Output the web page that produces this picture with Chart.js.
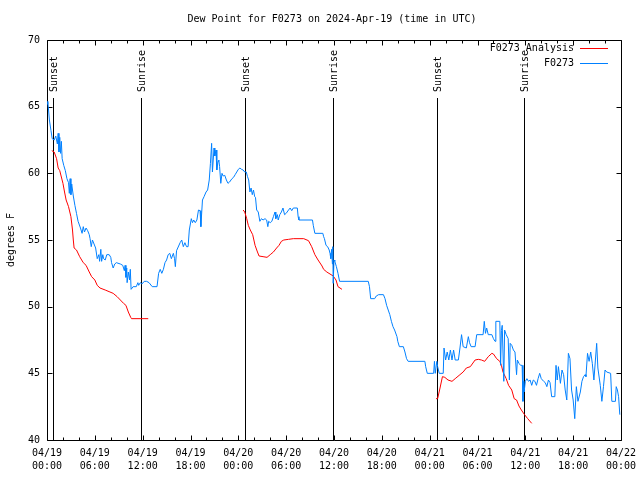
<!DOCTYPE html>
<html><head><meta charset="utf-8">
<script src="https://cdn.jsdelivr.net/npm/chart.js@4"></script>
<style>html,body{margin:0;padding:0;background:#fff}#wrap{width:640px;height:480px}</style>
</head><body><div id="wrap"><canvas id="c" width="640" height="480"></canvas></div>
<script>
const titleText = 'Dew Point for F0273 on 2024-Apr-19 (time in UTC)';
const yAxisTitle = 'degrees F';
const seriesNames = ['F0273 Analysis', 'F0273'];
const tickLabels = [['04/19','00:00'],['04/19','06:00'],['04/19','12:00'],['04/19','18:00'],
  ['04/20','00:00'],['04/20','06:00'],['04/20','12:00'],['04/20','18:00'],
  ['04/21','00:00'],['04/21','06:00'],['04/21','12:00'],['04/21','18:00'],['04/22','00:00']];
const sunHours = [0.72, 11.79, 24.88, 35.92, 48.96, 59.88];
const sunLabels = ['Sunset','Sunrise','Sunset','Sunrise','Sunset','Sunrise'];

// hours since 04/19 00:00 UTC
const analysisHours = [0.6,0.9,1.2,1.4,1.6,2.0,2.2,2.4,2.7,3.0,3.2,3.3,3.4,3.7,4.1,4.55,4.9,5.3,5.6,6.0,6.3,6.65,7.3,7.9,8.3,8.8,9.2,9.6,9.9,10.2,10.5,10.6,12.7,
  18,
  24.6,24.8,25.05,25.25,25.5,25.8,26.1,26.4,26.6,27.1,27.6,28.0,28.4,28.8,29.1,29.4,29.7,30.3,30.9,32.2,32.8,33.2,33.6,34.0,34.5,34.7,35.1,35.5,35.9,36.25,36.5,37.0,
  42,
  48.8,49.0,49.3,49.6,49.9,50.3,50.8,51.2,51.8,52.2,52.6,53.1,53.7,54.1,54.5,54.9,55.35,55.8,56.0,56.4,56.8,57.0,57.2,57.6,57.9,58.3,58.6,58.9,59.2,59.5,59.9,60.3,60.8];
const analysisDew = [61.7,61.6,61.1,60.4,60.2,59.25,58.6,58.0,57.5,56.75,55.75,55.0,54.4,54.25,53.75,53.3,53.1,52.6,52.25,52.0,51.6,51.4,51.25,51.1,51.0,50.75,50.5,50.25,50.1,49.6,49.2,49.1,49.1,
  null,
  57.25,57.1,56.6,56.1,55.75,55.4,54.6,54.1,53.8,53.75,53.7,53.9,54.1,54.4,54.6,54.9,55.0,55.05,55.1,55.1,54.95,54.5,53.9,53.5,53.05,52.8,52.6,52.45,52.3,52.0,51.5,51.3,
  null,
  43.1,43.1,43.9,44.75,44.7,44.5,44.4,44.6,44.9,45.1,45.4,45.5,46.0,46.05,46.0,45.9,46.25,46.5,46.45,46.1,45.9,45.6,45.1,44.6,44.1,43.75,43.1,43.0,42.55,42.25,41.9,41.6,41.25];

const obsHours = [0.0,0.1,0.3,0.5,0.65,0.9,1.1,1.3,1.4,1.5,1.6,1.7,1.8,1.9,2.1,2.3,2.5,2.7,2.8,2.9,3.0,3.1,3.3,3.5,3.7,3.9,4.2,4.4,4.55,4.7,4.9,5.1,5.3,
  5.4,5.55,5.7,5.9,6.1,6.3,6.5,6.6,6.75,6.85,7.0,7.1,7.3,7.5,7.8,8.0,8.1,8.3,8.5,8.7,9.2,9.5,9.7,9.8,9.9,10.0,10.05,10.2,10.35,10.45,10.55,10.8,11.2,11.4,11.5,11.7,11.9,
  12.2,12.5,12.8,13.2,13.8,14.0,14.2,14.4,14.6,14.8,15.0,15.2,15.4,15.6,15.85,16.0,16.1,16.25,16.4,16.7,16.9,17.1,17.3,17.5,17.7,17.85,18.1,18.25,18.4,18.6,18.8,
  19.0,19.2,19.3,19.5,19.7,19.95,20.15,20.35,20.5,20.65,20.75,20.95,21.05,21.2,21.3,21.45,21.55,21.65,21.8,21.95,22.1,22.3,22.5,22.7,22.9,23.2,23.4,23.6,23.8,
  24.0,24.2,24.4,24.6,24.8,25.0,25.15,25.3,25.45,25.6,25.75,25.9,26.05,26.15,26.3,26.5,26.7,26.9,27.1,27.35,27.55,27.7,27.8,28.0,28.2,28.4,28.6,28.7,28.9,29.0,
  29.2,29.4,29.6,29.8,30.0,30.3,30.5,30.7,30.9,31.1,31.4,31.5,31.6,33.3,33.4,33.6,34.6,34.7,34.8,35.0,35.2,35.4,35.5,35.6,35.7,35.8,35.85,35.9,36.0,36.1,36.3,36.5,36.7,
  40.3,40.45,40.6,41.1,41.3,41.6,42.2,42.4,42.6,42.8,43.0,43.2,43.4,43.6,43.9,44.0,44.2,44.7,44.9,45.1,45.3,47.4,47.5,47.7,48.5,48.6,48.7,48.9,49.0,49.2,49.7,49.8,
  50.0,50.2,50.4,50.6,50.8,51.0,51.2,51.6,51.8,52.0,52.2,52.6,52.85,53.0,53.2,53.7,53.9,54.7,54.85,55.0,55.15,55.35,55.8,56.0,56.2,56.3,56.8,56.9,57.0,57.1,57.3,57.4,
  57.6,57.85,58.0,58.1,58.3,58.5,58.7,58.9,59.0,59.2,59.4,59.6,59.7,59.8,59.85,60.0,60.2,60.4,60.6,60.8,61.0,61.2,61.4,61.6,61.8,62.0,62.3,62.5,62.7,62.9,63.1,
  63.3,63.7,63.85,64.0,64.15,64.4,64.6,64.8,65.0,65.2,65.4,65.6,65.8,66.0,66.2,66.4,66.6,66.9,67.1,67.3,67.5,67.6,67.8,68.0,68.2,68.4,68.6,68.95,69.1,69.4,69.6,
  69.8,70.0,70.2,70.7,70.85,71.3,71.4,71.55,71.7,71.85];
const obsDew = [65.2,65.4,64.0,63.2,62.6,62.5,62.8,62.2,63.0,61.6,62.7,61.5,62.4,61.1,60.6,60.2,59.6,59.3,58.5,59.6,58.4,59.2,58.3,57.6,57.0,56.4,55.9,55.5,56.0,55.6,55.9,55.7,55.4,
  55.1,54.5,55.0,54.7,54.4,53.6,53.9,53.4,54.3,53.4,53.9,53.6,53.5,53.9,53.9,53.7,53.3,52.9,53.2,53.3,53.2,53.1,52.7,53.1,52.2,52.9,51.8,52.6,52.0,52.8,51.3,51.5,51.5,51.8,51.6,51.8,51.7,
  51.9,51.9,51.8,51.5,51.5,52.5,52.8,52.5,52.8,53.3,53.5,53.9,54.0,53.6,54.0,53.6,53.0,54.2,54.4,54.8,55.0,54.5,54.8,54.5,54.5,55.75,56.6,56.3,56.5,56.3,56.5,
  57.25,57.2,56.0,58.0,58.25,58.6,58.75,59.5,60.75,62.25,60.1,61.9,61.3,61.75,60.25,60.9,61.0,60.5,59.25,60.0,59.8,59.85,59.5,59.25,59.35,59.6,59.7,59.9,60.1,
  60.3,60.4,60.3,60.25,60.1,60.1,59.75,59.5,58.6,58.9,58.4,58.75,58.25,58.2,57.25,57.1,56.4,56.6,56.5,56.6,56.5,56.0,56.4,56.3,56.4,56.75,57.1,56.6,56.9,56.5,
  56.9,57.1,57.4,56.9,57.0,57.25,57.4,57.2,57.4,57.4,57.4,56.75,56.5,56.5,56.1,55.5,55.5,55.25,55.1,54.6,54.5,54.25,54.0,53.6,54.3,53.2,54.5,51.75,53.5,53.4,53.0,52.5,51.9,
  51.9,51.5,50.6,50.6,50.8,50.9,50.9,50.6,50.1,49.75,49.4,48.9,48.5,48.25,47.75,47.4,47.0,47.0,46.6,46.1,45.9,45.9,45.5,45.0,45.0,45.9,45.0,45.9,45.5,45.0,45.0,46.9,
  46.0,46.6,46.0,46.75,46.0,46.75,46.0,46.0,46.9,47.9,47.0,46.9,47.75,47.3,47.0,47.0,47.9,47.9,48.9,48.0,48.4,47.9,47.9,47.6,47.4,48.9,48.9,45.6,48.2,48.6,44.4,48.25,
  47.9,47.6,44.5,47.25,47.1,46.75,46.6,44.9,46.0,45.75,45.6,45.6,42.9,44.4,43.6,44.4,44.6,44.4,44.5,44.1,44.5,44.4,44.1,44.6,45.0,44.6,44.4,44.3,44.0,44.5,44.3,
  43.25,43.25,45.6,44.5,45.5,44.25,45.25,44.9,43.75,43.0,46.5,46.1,43.75,43.0,41.6,44.0,42.9,43.6,44.4,44.75,44.9,44.75,46.5,45.9,46.6,45.75,44.5,47.25,45.4,44.1,42.9,
  44.0,45.25,45.1,45.0,42.9,42.9,44.0,43.75,43.25,41.9];

const FONT = '"DejaVu Sans Mono", "Liberation Mono", monospace';
Chart.defaults.color = '#000';
Chart.defaults.font.family = FONT;
Chart.defaults.font.size = 10;

const gnuplotFrame = {
  id: 'gnuplotFrame',
  beforeDatasetsDraw(chart) {
    const {ctx, chartArea: a, scales: {x, y}} = chart;
    const L = Math.round(a.left) + 0.5, R = Math.round(a.right) + 0.5;
    const T = Math.round(a.top) + 0.5, B = Math.round(a.bottom) + 0.5;
    ctx.save();
    ctx.strokeStyle = '#000';
    ctx.lineWidth = 1;
    ctx.beginPath();
    ctx.rect(L, T, R - L, B - T);
    for (let h = x.min; h <= x.max; h += 2) {
      const px = Math.round(x.getPixelForValue(h)) + 0.5;
      const len = h % 6 === 0 ? 5 : 3;
      ctx.moveTo(px, B); ctx.lineTo(px, B - len);
      ctx.moveTo(px, T); ctx.lineTo(px, T + len);
    }
    for (let v = y.min; v <= y.max; v += 5) {
      const py = Math.round(y.getPixelForValue(v)) + 0.5;
      ctx.moveTo(L, py); ctx.lineTo(L + 5, py);
      ctx.moveTo(R, py); ctx.lineTo(R - 5, py);
    }
    ctx.stroke();
    // sunrise / sunset markers
    ctx.font = '10px ' + FONT;
    ctx.fillStyle = '#000';
    sunHours.forEach((h, i) => {
      const px = Math.round(x.getPixelForValue(h)) + 0.5;
      ctx.beginPath();
      ctx.moveTo(px, a.top + 58);
      ctx.lineTo(px, B);
      ctx.stroke();
      ctx.save();
      ctx.translate(px + 1, a.top + 52);
      ctx.rotate(-Math.PI / 2);
      ctx.textAlign = 'left';
      ctx.textBaseline = 'middle';
      ctx.fillText(sunLabels[i], 0, 0);
      ctx.restore();
    });
    ctx.restore();
  },
  afterDraw(chart) {
    const {ctx, chartArea: a} = chart;
    ctx.save();
    ctx.font = '10px ' + FONT;
    ctx.fillStyle = '#000';
    ctx.textAlign = 'center';
    ctx.textBaseline = 'middle';
    ctx.fillText(titleText, (a.left + a.right) / 2 - 2, 19);
    // key
    chart.data.datasets.forEach((ds, i) => {
      const yy = Math.round(a.top + 8 + i * 14.5) + 0.5;
      ctx.textAlign = 'right';
      ctx.fillStyle = '#000';
      ctx.fillText(ds.label, a.right - 47, yy);
      ctx.strokeStyle = ds.borderColor;
      ctx.lineWidth = 1;
      ctx.beginPath();
      ctx.moveTo(a.right - 41, yy);
      ctx.lineTo(a.right - 13, yy);
      ctx.stroke();
    });
    ctx.restore();
  }
};

new Chart(document.getElementById('c'), {
  type: 'line',
  data: {
    datasets: [
      {
        label: seriesNames[0],
        data: analysisHours.map((h, i) => ({x: h, y: analysisDew[i]})),
        borderColor: '#ff0000',
        borderWidth: 1,
        pointRadius: 0,
        tension: 0,
        spanGaps: false,
        order: 2
      },
      {
        label: seriesNames[1],
        data: obsHours.map((h, i) => ({x: h, y: obsDew[i]})),
        borderColor: '#0080ff',
        borderWidth: 1,
        pointRadius: 0,
        tension: 0,
        order: 1
      }
    ]
  },
  options: {
    responsive: false,
    animation: false,
    devicePixelRatio: 1,
    events: [],
    layout: {padding: {top: 40, right: 19, left: 0, bottom: 0}},
    plugins: {legend: {display: false}, title: {display: false}, tooltip: {enabled: false}},
    scales: {
      x: {
        type: 'linear',
        min: 0, max: 72,
        grid: {display: false, drawTicks: false},
        border: {display: false},
        ticks: {
          stepSize: 6,
          autoSkip: false,
          maxRotation: 0,
          padding: 7,
          font: {size: 10, lineHeight: '13px'},
          callback: (v) => tickLabels[Math.round(v / 6)]
        },
        afterFit: (s) => { s.height = 40; s.paddingLeft = 0; s.paddingRight = 0; }
      },
      y: {
        min: 40, max: 70,
        grid: {display: false, drawTicks: false},
        border: {display: false},
        ticks: {stepSize: 5, padding: 7, font: {size: 10}},
        title: {display: true, text: yAxisTitle, padding: {top: 5, bottom: 0}, font: {size: 10}},
        afterFit: (s) => { s.width = 47; s.paddingTop = 0; s.paddingBottom = 0; }
      }
    }
  },
  plugins: [gnuplotFrame]
});
</script>
</body></html>
